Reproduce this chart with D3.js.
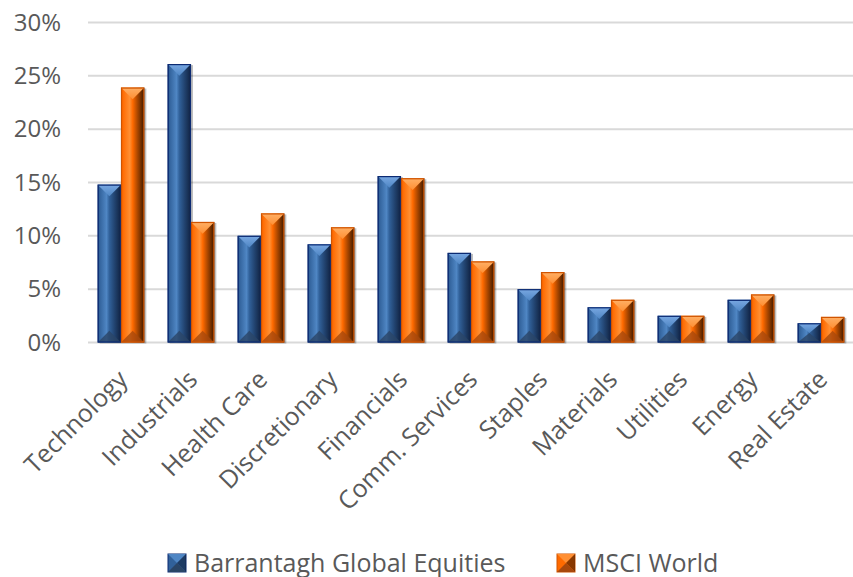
<!DOCTYPE html>
<html><head><meta charset="utf-8">
<script src="https://cdn.jsdelivr.net/npm/d3@7"></script>
<style>body{margin:0;background:#fff;}svg{display:block;font-family:"Open Sans",sans-serif;}</style>
</head><body>
<svg id="c" width="853" height="577"></svg>
<script>
const categories = ["Technology","Industrials","Health Care","Discretionary","Financials","Comm. Services","Staples","Materials","Utilities","Energy","Real Estate"];
const seriesNames = ["Barrantagh Global Equities","MSCI World"];
const barrantagh = [14.8,26.1,10.0,9.2,15.6,8.4,5.0,3.3,2.5,4.0,1.8];
const msciWorld = [23.9,11.3,12.1,10.8,15.4,7.6,6.6,4.0,2.5,4.5,2.4];
const yTicks = [0,5,10,15,20,25,30];

const svg = d3.select("#c");
const defs = svg.append("defs");
const themes = [
  {edge:"#0b2a72", dark:"#10213f", base:"#31619a", light:"#4f86c4", top:"#79a8e2", bottom:"#2a4566", name:"b"},
  {edge:"#d05400", dark:"#3a1800", base:"#ff6a00", light:"#ff8f33", top:"#ffb066", bottom:"#a8480c", name:"o"}
];
themes.forEach(t=>{
  const g = defs.append("linearGradient").attr("id","h"+t.name).attr("x1",0).attr("x2",1).attr("y1",0).attr("y2",0);
  [[0,t.edge],[0.07,t.base],[0.38,t.light],[0.5,t.base],[0.72,d3.interpolateRgb(t.base,t.dark)(0.45)],[1,t.dark]].forEach(s=>g.append("stop").attr("offset",s[0]).attr("stop-color",s[1]));
  const gt = defs.append("linearGradient").attr("id","t"+t.name).attr("x1",0).attr("x2",0).attr("y1",0).attr("y2",1);
  gt.append("stop").attr("offset",0).attr("stop-color",t.top);
  gt.append("stop").attr("offset",1).attr("stop-color",t.light);
});

const x = d3.scaleBand().domain(categories).range([86,856]).paddingInner(1/3).paddingOuter(1/6);
const x1 = d3.scaleBand().domain(seriesNames).range([0,x.bandwidth()]);
const y = d3.scaleLinear().domain([0,30]).range([342.5,22.5]);

// gridlines
svg.append("g").selectAll("line").data(yTicks).join("line")
  .attr("x1",88).attr("x2",853).attr("y1",d=>y(d)).attr("y2",d=>y(d))
  .attr("stroke","#d9d9d9").attr("stroke-width",2);

// y axis labels
const yAxis = d3.axisLeft(y).tickValues(yTicks).tickFormat(d=>d+"%").tickSize(0).tickPadding(0);
const ya = svg.append("g").attr("transform","translate(61,0)").call(yAxis);
ya.select(".domain").remove();
ya.selectAll("text").attr("font-size",24).attr("fill","#595959").attr("font-family","Open Sans");

function bevelBar(g, x0, w, yTop, yBot, t){
  const h = yBot - yTop;
  g.append("rect").attr("x",x0+2).attr("y",yTop+1).attr("width",w).attr("height",h).attr("fill","rgba(0,0,0,0.25)");
  g.append("rect").attr("x",x0).attr("y",yTop).attr("width",w).attr("height",h).attr("fill","url(#h"+t.name+")");
  const b = Math.min(w/2, h/2);
  g.append("path").attr("d",`M${x0},${yTop}L${x0+w},${yTop}L${x0+w/2},${yTop+b}Z`).attr("fill","url(#t"+t.name+")");
  g.append("path").attr("d",`M${x0},${yBot}L${x0+w},${yBot}L${x0+w/2},${yBot-b}Z`).attr("fill",t.bottom).attr("opacity",0.8);
  g.append("rect").attr("x",x0+0.5).attr("y",yTop+0.5).attr("width",w-1).attr("height",h-1).attr("fill","none").attr("stroke",t.edge).attr("stroke-width",1.2);
}

const bars = svg.append("g");
[barrantagh, msciWorld].forEach((vals,si)=>{
  vals.forEach((v,i)=>{
    const x0 = x(categories[i]) + x1(seriesNames[si]);
    bevelBar(bars, x0, x1.bandwidth(), y(v), y(0), themes[si]);
  });
});

// x labels
const xa = svg.append("g");
xa.selectAll("text").data(categories).join("text")
  .attr("transform",d=>`translate(${x(d)+x.bandwidth()/2+8},381) rotate(-45)`)
  .attr("text-anchor","end").attr("font-size",25).attr("fill","#595959").text(d=>d);

// legend
const leg = svg.append("g");
const legX = [168,557];
seriesNames.forEach((n,i)=>{
  const t = themes[i];
  const gx = legX[i];
  const lg = leg.append("g");
  lg.append("rect").attr("x",gx).attr("y",554).attr("width",18).attr("height",18).attr("fill",t.base).attr("stroke",t.edge).attr("stroke-width",1);
  lg.append("path").attr("d",`M${gx},554L${gx+18},554L${gx+9},563Z`).attr("fill",t.light);
  lg.append("path").attr("d",`M${gx+18},554L${gx+18},572L${gx+9},563Z`).attr("fill",t.dark).attr("opacity",0.6);
  lg.append("path").attr("d",`M${gx},572L${gx+18},572L${gx+9},563Z`).attr("fill",t.bottom);
  lg.append("text").attr("x",gx+26).attr("y",571.5).attr("font-size",25).attr("fill","#595959").text(n);
});
</script>
</body></html>
